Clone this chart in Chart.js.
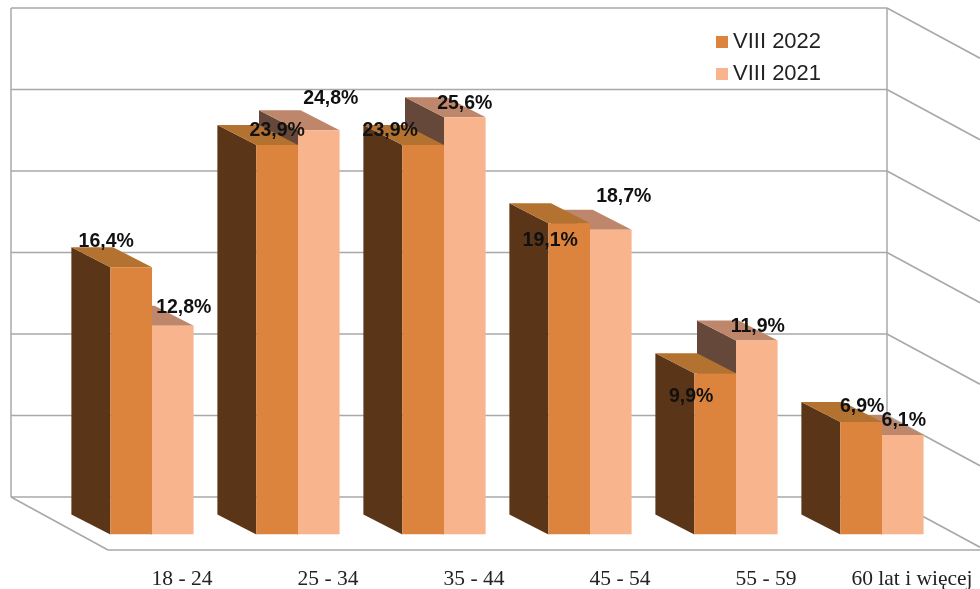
<!DOCTYPE html>
<html>
<head>
<meta charset="utf-8">
<style>html,body{margin:0;padding:0;background:#fff}canvas{display:block}</style>
<script src="https://cdn.jsdelivr.net/npm/chart.js@4/dist/chart.umd.min.js"></script>
</head>
<body>
<canvas id="c" width="980" height="589"></canvas>
<script>
const categories = ["18 - 24", "25 - 34", "35 - 44", "45 - 54", "55 - 59", "60 lat i więcej"];
const seriesNames = ["VIII 2022", "VIII 2021"];
const values2022 = [16.4, 23.9, 23.9, 19.1, 9.9, 6.9];
const values2021 = [12.8, 24.8, 25.6, 18.7, 11.9, 6.1];
const frontColors = ["#DC843E", "#F8B48C"];
const sideColors = ["#5A3517", "#66483A"];
const topColors = ["#B3722F", "#BE876B"];

// label nudges from each bar's top centre [dx, dy]
const labelNudge2022 = [[-25,-26],[0,-14],[-33,-14],[-19,17],[-24,23],[1,-15]];
const labelNudge2021 = [[11,-18],[12,-32],[0,-14],[13,-33],[1,-14],[1,-14]];

const DEPTH_X = -39, DEPTH_Y = -20;
const WALL_LEFT = 11, WALL_RIGHT = 887, WALL_DY = -37.5, FLOOR_X = 108, FLOOR_Y = 550, SLOPE = 0.54;

function poly(ctx, pts, fill) {
  ctx.beginPath();
  pts.forEach((p, i) => i ? ctx.lineTo(p[0], p[1]) : ctx.moveTo(p[0], p[1]));
  ctx.closePath();
  ctx.fillStyle = fill;
  ctx.fill();
}

const scene = {
  id: "scene",
  afterLayout(chart) {
    const l = chart.legend;
    l.left = 712; l.right = 860; l.top = 21; l.bottom = 200;
  },
  beforeDatasetsDraw(chart) {
    const ctx = chart.ctx, y = chart.scales.y;
    ctx.save();
    ctx.strokeStyle = "#A8A8A8";
    ctx.lineWidth = 1.5;
    const line = (a, b, c, d) => { ctx.beginPath(); ctx.moveTo(a, b); ctx.lineTo(c, d); ctx.stroke(); };
    y.ticks.forEach(t => {
      const py = y.getPixelForValue(t.value) + WALL_DY;
      line(WALL_LEFT, py, WALL_RIGHT, py);
      line(WALL_RIGHT, py, 980, py + (980 - WALL_RIGHT) * SLOPE);
    });
    const top = y.getPixelForValue(y.max) + WALL_DY, bot = y.getPixelForValue(0) + WALL_DY;
    line(WALL_LEFT, top, WALL_LEFT, bot);
    line(WALL_RIGHT, top, WALL_RIGHT, bot);
    line(WALL_LEFT, bot, FLOOR_X, FLOOR_Y);
    line(FLOOR_X, FLOOR_Y, 980, FLOOR_Y);
    // depth faces: later series first, so the nearer one covers it
    for (let d = 1; d >= 0; d--) {
      chart.getDatasetMeta(d).data.forEach(b => {
        const p = b.getProps(["x", "y", "base", "width"], true);
        const l = p.x - p.width / 2, r = p.x + p.width / 2;
        poly(ctx, [[l, p.y], [l + DEPTH_X, p.y + DEPTH_Y], [l + DEPTH_X, p.base + DEPTH_Y], [l, p.base]], sideColors[d]);
        poly(ctx, [[l, p.y], [l + DEPTH_X, p.y + DEPTH_Y], [r + DEPTH_X, p.y + DEPTH_Y], [r, p.y]], topColors[d]);
      });
    }
    ctx.restore();
  },
  afterDatasetsDraw(chart) {
    const ctx = chart.ctx;
    ctx.save();
    ctx.font = "bold 19.5px 'Liberation Sans'";
    ctx.fillStyle = "#111";
    ctx.textAlign = "center";
    ctx.textBaseline = "middle";
    [labelNudge2022, labelNudge2021].forEach((nudge, d) => {
      chart.getDatasetMeta(d).data.forEach((b, i) => {
        const v = chart.data.datasets[d].data[i];
        ctx.fillText(v.toFixed(1).replace(".", ",") + "%", b.x + nudge[i][0], b.y + nudge[i][1]);
      });
    });
    ctx.restore();
  }
};

new Chart(document.getElementById("c"), {
  type: "bar",
  data: {
    labels: categories,
    datasets: [
      { label: seriesNames[0], data: values2022, backgroundColor: frontColors[0], borderWidth: 0 },
      { label: seriesNames[1], data: values2021, backgroundColor: frontColors[1], borderWidth: 0 }
    ]
  },
  options: {
    responsive: false,
    animation: false,
    devicePixelRatio: 1,
    layout: { padding: { left: 79, right: 25, top: 45.5, bottom: 0 } },
    datasets: { bar: { barPercentage: 1, categoryPercentage: 0.57 } },
    scales: {
      x: {
        grid: { display: false },
        border: { display: false },
        afterFit(s) { s.height = 54.5; },
        ticks: {
          autoSkip: false, maxRotation: 0, labelOffset: 30, padding: 24,
          color: "#222", font: { family: "'Liberation Serif'", size: 21.5 }
        }
      },
      y: {
        display: false, min: 0, max: 30,
        ticks: { stepSize: 5 }
      }
    },
    plugins: {
      tooltip: { enabled: false },
      legend: {
        position: "chartArea",
        align: "start",
        labels: {
          usePointStyle: true, pointStyle: "rect",
          boxWidth: 0.01, boxHeight: 12, padding: 10,
          color: "#222", font: { family: "'Liberation Sans'", size: 22 }
        }
      }
    }
  },
  plugins: [scene]
});
</script>
</body>
</html>
